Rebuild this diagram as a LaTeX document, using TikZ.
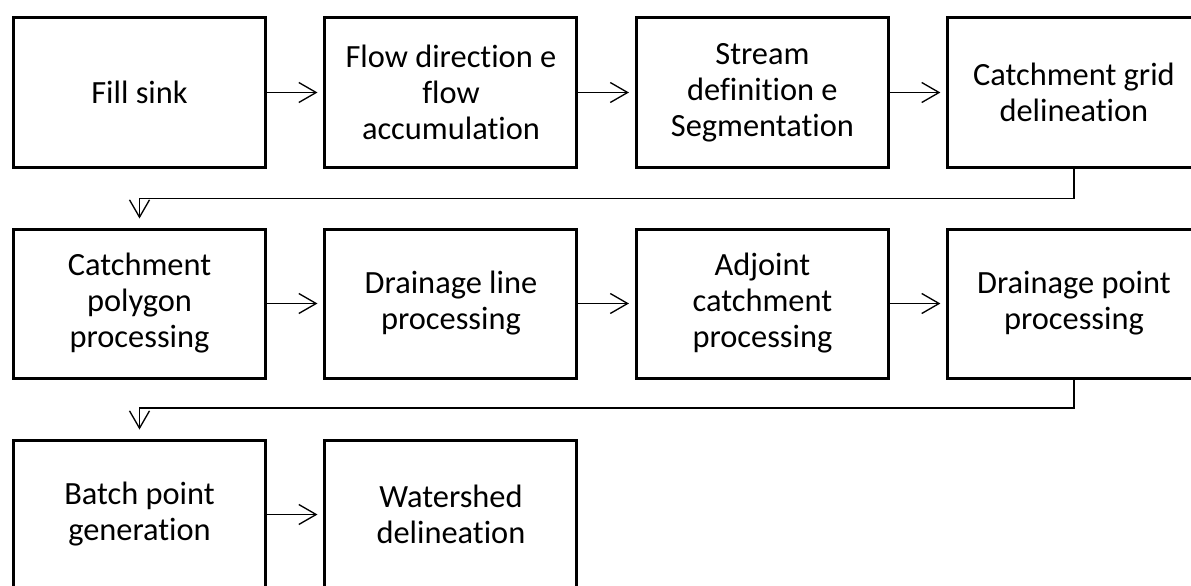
\documentclass[tikz,border=0pt]{standalone}
\usepackage{fontspec}
\setmainfont{Carlito}[Ligatures={NoCommon, NoRequired, NoContextual}]
\usetikzlibrary{positioning, arrows.meta}

\tikzset{
    stage/.style={draw, line width=2.25pt, minimum width=189pt, minimum height=111.75pt,
        align=center, inner sep=0pt, font=\fontsize{24.3}{27}\selectfont},
    flow/.style={-{Straight Barb[length=13pt, width=15pt, line width=1pt]}, line width=1pt, shorten >=4.5pt},
    wrap/.style={flow, shorten >=6.75pt}
}

\begin{document}
\begin{tikzpicture}[x=0.75pt, y=-0.75pt, node distance=158.25pt and 233.6pt, on grid]
    \clip (0,0) rectangle (1191,585);
    \fill[white] (0,0) rectangle (1191,585);

    % first row
    \node[stage] (sink) at (139.5,92.5) {Fill sink};
    \node[stage] (dir) [right=of sink] {Flow direction e\\flow\\accumulation};
    \node[stage] (stream) [right=of dir] {Stream\\definition e\\Segmentation};
    \node[stage] (grid) [right=of stream] {Catchment grid\\delineation};

    % second row
    \node[stage] (poly) [below=of sink] {Catchment\\polygon\\processing};
    \node[stage] (line) [right=of poly] {Drainage line\\processing};
    \node[stage] (adj) [right=of line] {Adjoint\\catchment\\processing};
    \node[stage] (dpoint) [right=of adj] {Drainage point\\processing};

    % third row
    \node[stage] (batch) [below=of poly] {Batch point\\generation};
    \node[stage] (shed) [right=of batch] {Watershed\\delineation};

    \draw[flow] (sink) -- (dir);
    \draw[flow] (dir) -- (stream);
    \draw[flow] (stream) -- (grid);
    \draw[wrap] (grid.south) -- ++(0,30) -| (poly.north);
    \draw[flow] (poly) -- (line);
    \draw[flow] (line) -- (adj);
    \draw[flow] (adj) -- (dpoint);
    \draw[wrap] (dpoint.south) -- ++(0,28.5) -| (batch.north);
    \draw[flow] (batch) -- (shed);
\end{tikzpicture}
\end{document}
